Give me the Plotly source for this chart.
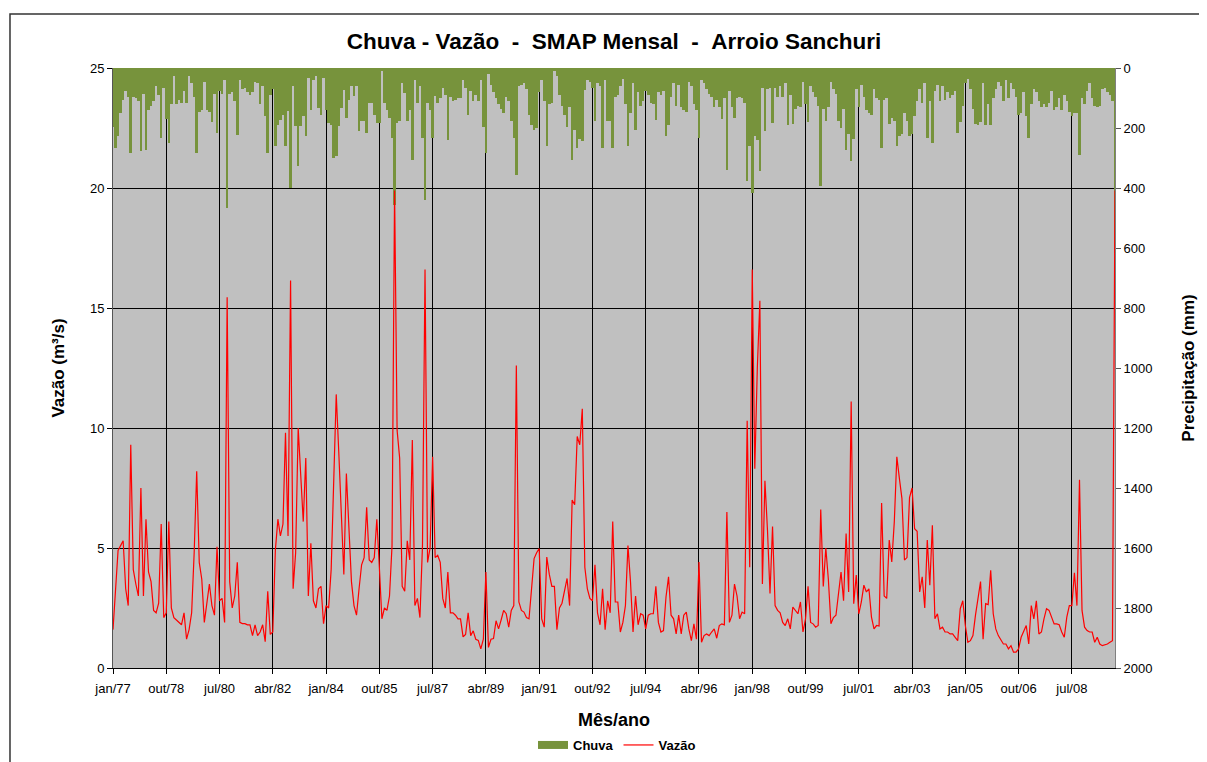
import plotly.graph_objects as go

meses = ['jan', 'fev', 'mar', 'abr', 'mai', 'jun', 'jul', 'ago', 'set', 'out', 'nov', 'dez']
anos = list(range(1977, 2010))
categorias = [f"{m}/{str(a)[-2:]}" for a in anos for m in meses]

# Vazão (m³/s), monthly jan/77 - dez/09
vazao = [
    1.6, 3.2, 4.9, 5.1, 5.3, 3.3, 2.6, 9.3, 4.1, 3.5, 3.0, 7.5,
    3.0, 6.2, 4.0, 3.6, 2.4, 2.3, 2.7, 6.0, 2.1, 2.3, 6.1, 2.5,
    2.1, 2.0, 1.9, 1.8, 2.3, 1.2, 1.6, 2.3, 4.8, 8.2, 4.4, 3.7,
    1.9, 2.6, 3.5, 2.6, 2.2, 5.05, 2.8, 2.9, 1.9, 15.45, 3.6, 2.5,
    3.0, 4.4, 1.9, 1.85, 1.85, 1.8, 1.8, 1.35, 1.8, 1.35, 1.5, 1.8,
    1.1, 3.2, 1.4, 1.5, 4.9, 6.2, 5.5, 6.0, 9.8, 5.5, 16.15, 3.3,
    4.8, 10.0, 8.2, 6.1, 8.75, 3.0, 5.2, 2.8, 2.5, 3.3, 3.4, 1.85,
    2.6, 2.5, 4.1, 7.6, 11.4, 9.0, 6.2, 3.9, 8.1, 5.5, 3.6, 2.6,
    2.2, 3.3, 4.3, 4.6, 6.7, 4.5, 4.4, 4.6, 6.2, 4.2, 2.05, 2.5,
    2.4, 3.0, 5.1, 19.9, 9.9, 8.75, 3.4, 3.2, 5.3, 4.5, 9.5, 2.6,
    2.9, 2.1, 5.1, 16.6, 4.4, 5.0, 8.8, 4.6, 4.7, 4.4, 2.9, 2.5,
    4.0, 2.3, 2.3, 2.2, 2.05, 2.05, 1.3, 1.4, 2.3, 1.35, 1.55, 1.2,
    1.15, 0.8, 1.2, 4.0, 0.86, 1.2, 1.23, 1.97, 1.63, 2.0, 2.4, 2.26,
    1.7, 2.4, 2.6, 12.6, 2.75, 2.4, 2.33, 2.1, 2.05, 3.3, 4.56, 4.8,
    4.98, 2.05, 1.7, 4.62, 3.9, 3.4, 3.4, 1.6, 2.5, 2.7, 3.2, 3.73,
    2.6, 7.0, 6.8, 9.65, 9.3, 10.8, 4.2, 3.3, 2.9, 2.8, 4.3, 2.3,
    1.8, 3.3, 1.6, 2.8, 2.3, 6.1, 2.75, 2.75, 1.5, 1.9, 2.6, 5.1,
    3.6, 1.5, 3.0, 1.8, 2.26, 2.2, 1.63, 2.2, 2.26, 2.26, 3.4, 1.9,
    1.5, 1.56, 2.96, 3.8, 2.2, 2.05, 1.42, 2.2, 1.42, 2.2, 2.33, 1.63,
    1.14, 1.84, 1.2, 4.42, 1.07, 1.35, 1.42, 1.35, 1.5, 1.63, 1.24, 1.77,
    1.84, 1.8, 6.5, 1.9, 2.2, 3.5, 3.0, 2.05, 2.33, 2.26, 10.3, 4.2,
    16.6, 8.3, 12.5, 15.3, 3.5, 7.8, 5.75, 3.1, 5.9, 2.6, 2.4, 2.3,
    1.9, 1.77, 2.05, 1.63, 2.54, 2.4, 2.26, 2.75, 1.5, 2.05, 3.4, 1.9,
    1.84, 1.7, 1.77, 6.6, 3.4, 5.0, 3.7, 1.84, 2.1, 2.2, 3.0, 4.0,
    2.8, 5.6, 3.17, 11.1, 2.68, 3.87, 2.26, 2.75, 3.45, 3.17, 3.3, 2.12,
    1.63, 1.77, 1.75, 6.87, 3.0, 2.9, 5.33, 4.42, 6.1, 8.8, 7.9, 7.07,
    4.5, 4.6, 7.1, 7.5, 5.8, 5.7, 3.17, 3.8, 2.5, 5.33, 3.45, 5.95,
    2.05, 2.26, 1.63, 1.7, 1.5, 1.5, 1.42, 1.42, 1.28, 1.14, 2.47, 2.8,
    1.77, 1.07, 1.14, 1.35, 2.2, 2.9, 3.6, 1.2, 2.68, 2.64, 4.07, 2.26,
    1.63, 1.35, 1.14, 1.0, 1.0, 0.8, 0.93, 0.66, 0.66, 0.8, 1.28, 1.5,
    1.77, 1.0, 2.6, 2.05, 2.8, 1.42, 1.5, 2.05, 2.47, 2.4, 2.12, 1.84,
    1.84, 1.8, 1.5, 1.28, 2.12, 2.6, 2.6, 3.97, 2.6, 7.84, 2.4, 1.7,
    1.56, 1.5, 1.5, 1.07, 1.28, 1.0, 0.93, 0.95, 1.0, 1.07, 1.14, 19.9,
]

# Chuva (mm), monthly jan/77 - dez/09
chuva = [
    195, 265, 228, 150, 105, 75, 95, 283, 95, 100, 110, 278,
    85, 272, 140, 125, 110, 60, 90, 233, 65, 170, 250, 120,
    25, 120, 105, 115, 75, 115, 25, 50, 95, 283, 145, 140,
    45, 140, 145, 180, 85, 217, 75, 85, 40, 467, 85, 80,
    110, 222, 40, 70, 65, 80, 90, 80, 45, 50, 120, 60,
    160, 283, 90, 70, 261, 189, 172, 155, 261, 144, 400, 61,
    194, 328, 194, 161, 228, 33, 139, 39, 28, 133, 156, 33,
    139, 183, 190, 300, 294, 194, 133, 72, 167, 106, 61, 94,
    61, 211, 178, 178, 217, 117, 117, 156, 183, 183, 11, 117,
    139, 167, 233, 456, 183, 178, 50, 83, 178, 139, 306, 39,
    117, 61, 233, 439, 117, 139, 233, 94, 117, 100, 67, 90,
    239, 95, 110, 105, 100, 100, 40, 65, 156, 75, 110, 90,
    110, 40, 195, 283, 20, 55, 80, 100, 120, 135, 150, 95,
    110, 175, 233, 355, 60, 55, 50, 70, 155, 190, 205, 200,
    80, 40, 110, 261, 120, 115, 10, 25, 90, 125, 155, 195,
    130, 306, 205, 267, 235, 244, 72, 40, 45, 65, 178, 50,
    60, 267, 40, 178, 178, 267, 95, 90, 60, 35, 120, 261,
    150, 50, 206, 80, 125, 110, 75, 90, 115, 120, 172, 80,
    90, 75, 228, 190, 95, 50, 125, 55, 130, 140, 145, 45,
    60, 120, 140, 233, 40, 50, 70, 85, 95, 130, 105, 130,
    170, 100, 339, 75, 130, 165, 100, 95, 100, 115, 378, 260,
    417, 225, 240, 344, 65, 211, 70, 65, 183, 65, 95, 60,
    95, 50, 190, 90, 185, 135, 125, 130, 45, 120, 180, 60,
    80, 95, 125, 394, 135, 178, 130, 45, 70, 85, 175, 200,
    135, 272, 220, 311, 235, 70, 130, 55, 95, 140, 150, 155,
    70, 100, 105, 267, 105, 100, 185, 165, 175, 261, 225, 220,
    150, 175, 225, 220, 160, 110, 70, 115, 50, 233, 110, 250,
    75, 55, 110, 60, 105, 80, 100, 90, 75, 217, 180, 125,
    50, 35, 70, 135, 185, 190, 180, 50, 190, 120, 190, 100,
    70, 45, 60, 110, 40, 100, 50, 70, 95, 155, 150, 80,
    160, 233, 120, 70, 80, 110, 130, 120, 130, 115, 75, 140,
    130, 100, 140, 90, 110, 145, 160, 150, 150, 289, 100, 120,
    75, 50, 100, 125, 130, 125, 70, 65, 80, 90, 110, 615,
]

tick_labels = categorias[::21]
left_ticks = [0, 5, 10, 15, 20, 25]
right_ticks = list(range(0, 2001, 200))

FONT = "Liberation Sans"
NB = "\u00a0"
GREEN = "#77933C"

fig = go.Figure()
fig.add_trace(go.Bar(
    x=categorias, y=chuva, name="Chuva", yaxis="y", showlegend=False,
    marker=dict(color=GREEN, line=dict(width=0)), width=1.0,
))
# legend key for the rainfall bars (wide rectangle, as in the original)
fig.add_trace(go.Scatter(
    x=[None], y=[None], name="Chuva", yaxis="y", mode="lines",
    line=dict(color=GREEN, width=8), showlegend=True,
))
fig.add_trace(go.Scatter(
    x=categorias, y=vazao, name="Vazão", yaxis="y2", mode="lines",
    line=dict(color="#FF0000", width=1.2),
))

W, H = 1199, 754
fig.update_layout(
    width=W, height=H,
    margin=dict(l=105, r=92, t=60, b=94, autoexpand=False),
    paper_bgcolor="white", plot_bgcolor="#C0C0C0",
    font=dict(family=FONT, size=13, color="black"),
    bargap=0,
    title=dict(
        text=f"<b>Chuva - Vazão{NB}{NB}-{NB}{NB}SMAP Mensal{NB}{NB}-{NB}{NB}Arroio Sanchuri</b>",
        x=0.5, xref="paper", xanchor="center",
        y=1 - 33 / H, yref="container", yanchor="middle",
        font=dict(family=FONT, size=22.5, color="black"),
    ),
    xaxis=dict(
        type="category", range=[0, len(categorias) - 1], automargin=False,
        tickmode="array", tickvals=tick_labels, ticktext=tick_labels,
        showgrid=True, gridcolor="black", gridwidth=1,
        ticks="outside", ticklen=5, tickcolor="black",
        showline=True, linecolor="black", linewidth=1,
        tickfont=dict(size=13), ticklabelstandoff=3,
        title=dict(text="<b>Mês/ano</b>", font=dict(size=18), standoff=18),
    ),
    yaxis=dict(
        side="right", range=[2000, 0], automargin=False,
        tickmode="array", tickvals=right_ticks,
        showgrid=False, zeroline=False,
        ticks="outside", ticklen=5, tickcolor="#555",
        showline=True, linecolor="#808080", linewidth=1,
        tickfont=dict(size=13),
        title=dict(text="<b>Precipitação (mm)</b>", font=dict(size=17), standoff=30),
    ),
    yaxis2=dict(
        overlaying="y", side="left", range=[0, 25], automargin=False,
        tickmode="array", tickvals=left_ticks,
        showgrid=True, gridcolor="black", gridwidth=1, zeroline=False,
        ticks="outside", ticklen=5, tickcolor="black",
        showline=True, linecolor="#555", linewidth=1,
        tickfont=dict(size=13),
        title=dict(text="<b>Vazão (m³/s)</b>", font=dict(size=17), standoff=20),
    ),
    legend=dict(
        orientation="h", x=0.503, xanchor="center",
        y=1 - 737 / H, yref="container", yanchor="middle",
        font=dict(size=13, weight="bold"), bgcolor="rgba(0,0,0,0)",
        itemwidth=30, tracegroupgap=0,
    ),
    showlegend=True,
    shapes=[dict(
        type="rect", xref="paper", yref="paper",
        x0=-0.1028, x1=1.12, y0=-0.2, y1=1.09,
        line=dict(color="#333", width=1.5), fillcolor="rgba(0,0,0,0)", layer="below",
    )],
)

fig.write_html("out.html")
